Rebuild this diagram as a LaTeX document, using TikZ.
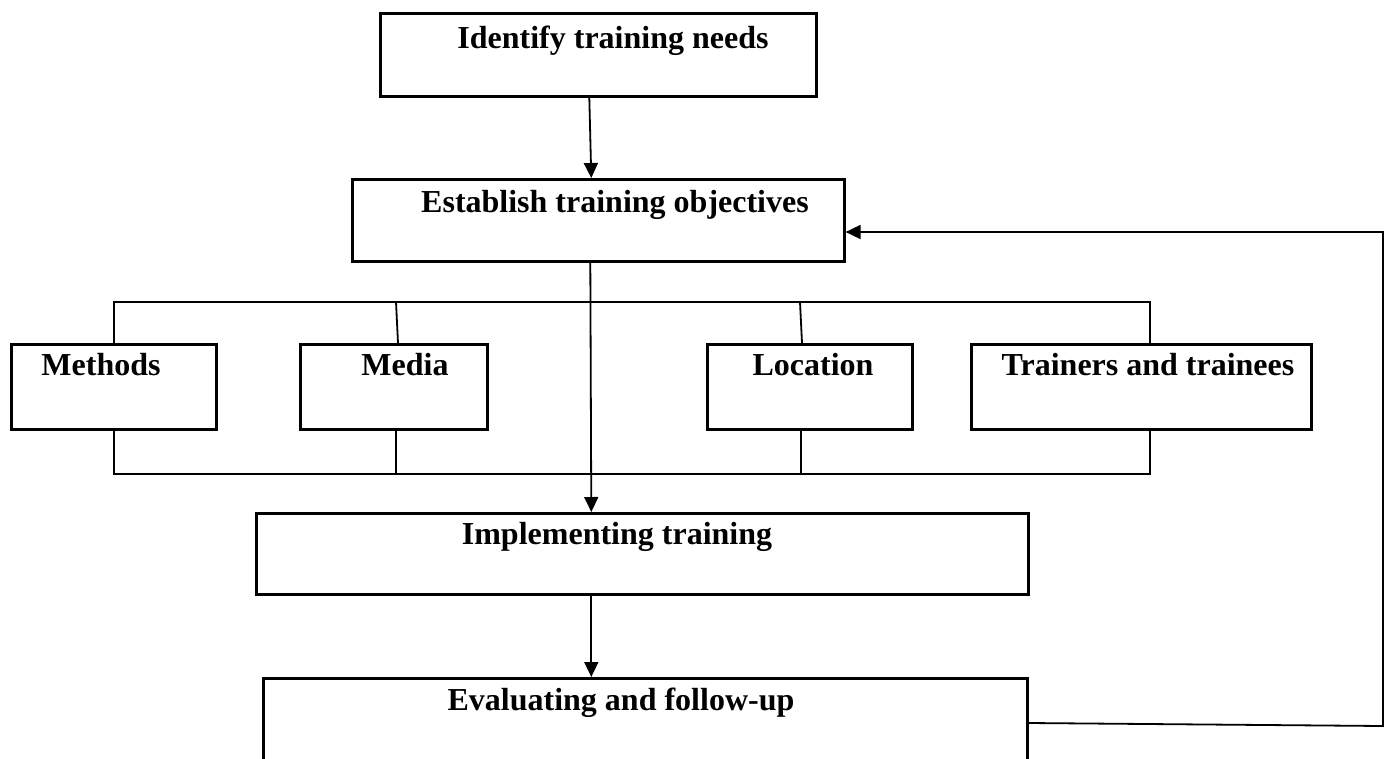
\documentclass[tikz,border=0pt]{standalone}
\usepackage{fontspec}
\setmainfont{Liberation Serif}
\usetikzlibrary{arrows.meta}
\tikzset{
  box/.style={draw=black, line width=2.6pt, rectangle, inner sep=0pt, anchor=north west},
  lbl/.style={anchor=base, inner sep=0pt, font=\bfseries\fontsize{32}{38}\selectfont},
  conn/.style={draw=black, line width=1.8pt},
  arr/.style={conn, -{Triangle[length=15pt,width=14pt]}}
}
\begin{document}
\begin{tikzpicture}[x=1pt,y=-1pt]
\clip (0,0) rectangle (1389,758);
\fill[white] (0,0) rectangle (1389,758);
% boxes
\node[box, minimum width=436pt, minimum height=83pt] (ident) at (379,12) {};
\node[box, minimum width=492pt, minimum height=82pt] (estab) at (351,178) {};
\node[box, minimum width=205pt, minimum height=85pt] (methods) at (10,343) {};
\node[box, minimum width=187pt, minimum height=85pt] (media) at (299,343) {};
\node[box, minimum width=205pt, minimum height=85pt] (location) at (706,343) {};
\node[box, minimum width=340pt, minimum height=85pt] (trainers) at (970,343) {};
\node[box, minimum width=772pt, minimum height=81pt] (impl) at (255,512) {};
\node[box, minimum width=764pt, minimum height=110pt] (eval) at (262,677) {};
% labels
\node[lbl] (identt) at (613,48) {Identify training needs};
\node[lbl] (estabt) at (615,212) {Establish training objectives};
\node[lbl] (methodst) at (101,375) {Methods};
\node[lbl] (mediat) at (405,375) {Media};
\node[lbl] (locationt) at (813,375) {Location};
\node[lbl] (trainerst) at (1148,375) {Trainers and trainees};
\node[lbl] (implt) at (617,544) {Implementing training};
\node[lbl] (evalt) at (621,710) {Evaluating and follow-up};
% bus coordinates
\coordinate (tl) at (114,302);
\coordinate (tm) at (396,302);
\coordinate (tn) at (800,302);
\coordinate (tr) at (1150,302);
\coordinate (bl) at (114,474);
\coordinate (bm) at (396,474);
\coordinate (bn) at (801,474);
\coordinate (br) at (1150,474);
\coordinate (fb1) at (1383,726);
\coordinate (fb2) at (1383,232);
% connectors
\draw[arr] ([xshift=-9pt]ident.south) -- ([xshift=-7pt]estab.north);
\draw[arr] ([xshift=-8pt]estab.south) -- ([xshift=-51pt]impl.north);
\draw[arr] ([xshift=-51pt]impl.south) -- ([xshift=-54pt]eval.north);
\draw[conn] (methods.north -| tl) -- (tl) -- (tr) -- (trainers.north -| tr);
\draw[conn] (tm) -- ([xshift=2pt]media.north -| tm);
\draw[conn] (tn) -- ([xshift=2pt]location.north -| tn);
\draw[conn] (methods.south -| bl) -- (bl) -- (br) -- (trainers.south -| br);
\draw[conn] (media.south -| bm) -- (bm);
\draw[conn] (location.south -| bn) -- (bn);
\draw[arr] (eval.east |- 0,723) -- (fb1) -- (fb2) -- (estab.east |- fb2);
\end{tikzpicture}
\end{document}
